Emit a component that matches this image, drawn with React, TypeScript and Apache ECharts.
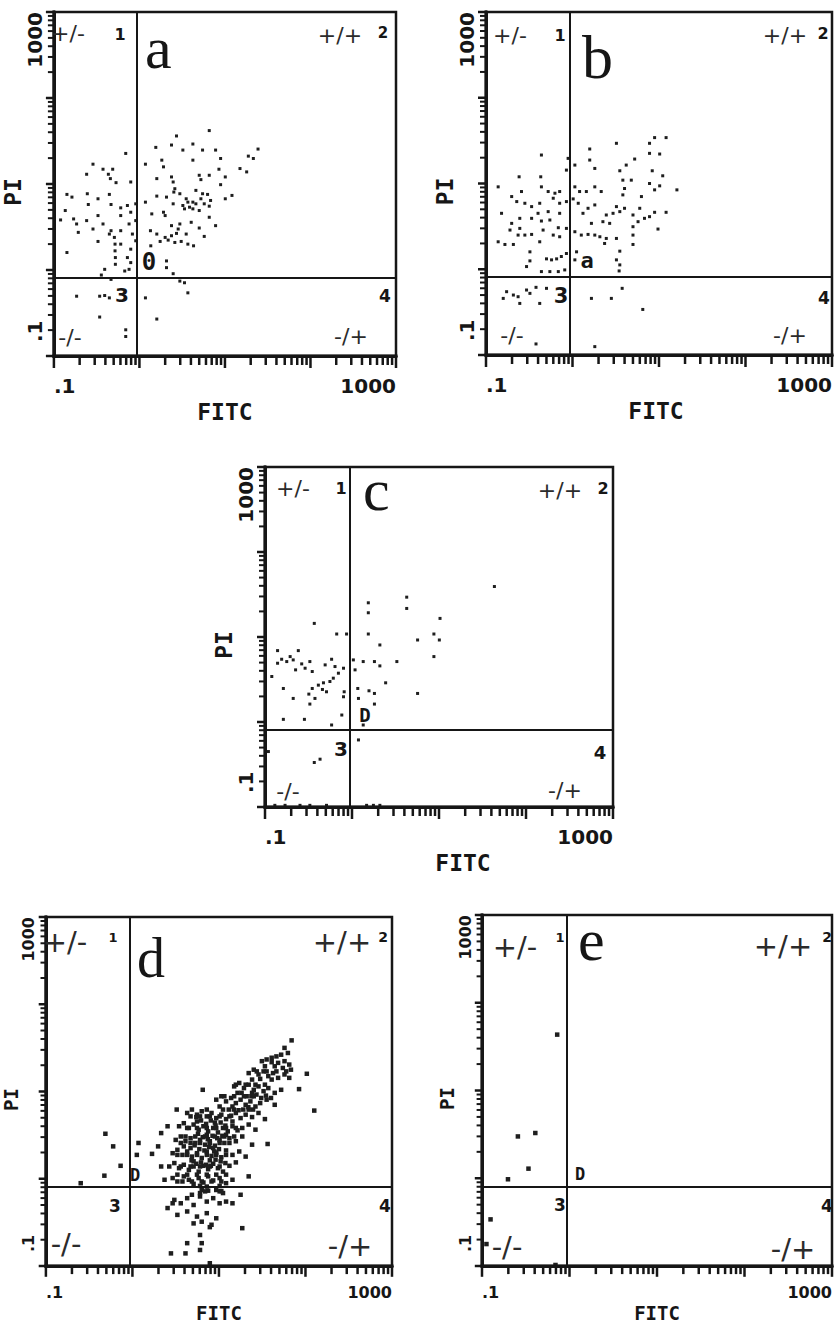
import React, { useEffect, useRef } from 'react';
import * as echarts from 'echarts';

// Flow cytometry dot plots: FL1 (FITC) vs FL2 (PI), 4-decade log amplifier,
// 1024 channels -> 256 channels per decade, from 0.1 to 1000.
const AXIS_MIN = 0.1;
const AXIS_MAX = 1000;
const CHANNELS_PER_DECADE = 256;
const gateFITCChannel = 249;
const gatePIChannel = 233;

const tickLabelMin = '.1';
const tickLabelMax = '1000';
const xAxisTitle = 'FITC';
const yAxisTitle = 'PI';
const panelLetters = ['a', 'b', 'c', 'd', 'e'];
const centerMarks = ['0', 'a', 'D', 'D', 'D'];
const quadrantSigns = ['+/-', '+/+', '-/-', '-/+'];
const quadrantNumbers = ['1', '2', '3', '4'];

// events as [FITC channel, PI channel]
const eventsA: number[][] = [
  [465,671],[367,655],[416,631],[305,621],[352,628],[386,613],[445,613],[484,613],[611,616],[582,595],
  [597,588],[499,588],[416,583],[323,583],[274,571],[328,563],[494,556],[557,558],[577,548],[435,538],
  [465,538],[352,533],[308,528],[513,533],[357,518],[440,525],[499,510],[362,498],[445,483],[460,481],
  [533,478],[513,468],[308,476],[337,473],[396,468],[416,458],[274,458],[357,453],[386,448],[425,453],
  [450,453],[465,446],[391,438],[416,438],[435,433],[328,428],[333,418],[293,423],[465,413],[411,398],
  [377,393],[484,388],[352,388],[372,378],[367,365],[289,373],[308,363],[333,353],[352,358],[396,363],
  [435,381],[450,356],[342,345],[362,338],[381,341],[401,333],[418,328],[318,341],[290,328],[337,283],
  [337,263],[357,245],[377,483],[425,493],[359,488],[401,458],[406,443],[440,468],[469,463],
  [215,603],[117,571],[147,556],[176,556],[98,541],[163,541],[169,528],[186,516],[230,518],[100,483],
  [39,481],[54,473],[132,468],[166,481],[103,451],[171,451],[200,441],[220,448],[245,453],[34,433],
  [20,405],[59,408],[98,403],[132,418],[68,393],[147,393],[200,418],[230,428],[73,368],[117,378],
  [166,363],[200,373],[225,393],[235,363],[132,341],[181,353],[183,333],[183,313],[184,293],[184,273],
  [200,333],[39,308],[220,293],[230,278],[152,258],[142,241],[212,253],[225,258],[230,318],[245,343],
  [171,373],[245,403],
  [171,228],[68,178],[137,178],[152,180],[166,173],[137,116],[215,78],[215,58],[274,173],[308,110],
  [401,188],[377,223],[391,218],
];

const eventsB: number[][] = [
  [499,649],[533,649],[386,632],[484,632],[307,615],[484,602],[514,600],[440,585],[307,582],[415,567],
  [263,567],[322,557],[396,550],[492,550],[523,535],[405,522],[430,522],[484,512],[263,502],[322,502],
  [410,497],[514,505],[565,493],[499,493],[277,488],[297,488],[341,488],[405,478],[460,473],[258,466],
  [273,453],[322,448],[302,438],[386,443],[410,438],[455,438],[499,426],[533,426],[287,423],[356,418],
  [376,423],[396,428],[435,418],[469,408],[484,413],[312,393],[346,398],[366,393],[450,398],[435,383],
  [509,376],[263,368],[282,358],[302,360],[322,358],[337,353],[356,348],[386,348],[435,358],[351,333],
  [435,330],[396,310],[386,284],[396,269],[394,251],[268,308],[263,284],
  [164,597],[98,532],[162,532],[243,587],[238,552],[36,502],[76,473],[105,488],[164,502],[184,488],
  [204,483],[218,488],[199,468],[91,458],[115,453],[135,443],[159,453],[218,453],[238,458],[46,423],
  [154,423],[184,428],[218,423],[100,408],[135,408],[164,400],[189,403],[76,393],[100,378],[214,380],
  [238,378],[71,373],[95,358],[115,358],[135,360],[169,373],[199,358],[218,353],[36,338],[56,330],
  [81,330],[159,338],[130,308],[130,281],[120,264],[179,287],[194,284],[209,287],[223,294],[238,303],
  [164,249],[189,249],[214,249],[233,254],
  [61,189],[81,179],[95,174],[120,194],[130,184],[148,202],[179,199],[51,169],[100,154],[159,154],
  [312,169],[371,169],[403,199],[464,136],[148,33],[322,25],
];

const eventsC: number[][] = [
  [675,664],[417,632],[417,598],[304,615],[304,585],[515,568],[304,521],[497,521],[513,503],[449,503],
  [338,488],[497,453],[388,438],[289,438],[322,438],[338,425],[260,443],[265,413],[355,374],[273,357],
  [306,350],[322,342],[449,342],[275,327],[322,310],[289,247],
  [145,553],[211,521],[240,521],[37,471],[98,471],[74,453],[49,445],[37,433],[64,438],[83,443],
  [108,431],[132,438],[196,445],[177,428],[90,413],[118,418],[139,408],[206,423],[216,403],[231,418],
  [20,393],[201,388],[172,374],[157,367],[191,378],[54,357],[139,357],[169,354],[181,347],[233,347],
  [129,340],[147,327],[83,327],[132,310],[231,332],[226,277],[196,247],[54,264],[116,264],
  [275,202],[10,167],[145,134],[162,144],
  [29,5],[59,5],[103,5],[132,5],[181,5],[299,5],[319,5],[338,5],
];

const eventsD: number[][] = [
  [176,388],[199,351],[221,294],[173,265],[103,243],
  [727,662],[706,640],[716,625],[696,620],[682,615],[668,611],
  [639,601],[653,606],[668,598],[687,596],[706,601],[720,591],[648,586],[677,586],[701,581],[725,576],
  [600,566],[615,576],[629,562],[644,571],[658,557],[672,566],[687,552],[706,562],[720,552],[610,547],
  [634,549],[668,547],
  [557,527],[572,537],[586,522],[600,532],[615,517],[629,527],[644,513],[658,522],[677,508],[696,517],
  [567,508],[610,508],
  [504,488],[519,498],[533,483],[548,493],[562,478],[576,488],[591,473],[605,483],[620,468],[634,478],
  [653,488],[677,473],[514,468],[552,468],[600,459],
  [418,449],[432,459],[447,444],[461,454],[476,439],[490,449],[504,434],[519,444],[533,431],[548,441],
  [562,449],[576,434],[591,444],[610,437],[629,449],[648,431],[476,459],[524,459],
  [394,410],[408,419],[423,405],[437,415],[452,400],[466,410],[480,395],[495,405],[509,392],[524,405],
  [538,395],[552,410],[567,398],[581,405],[600,415],[620,400],[447,424],[500,421],[552,424],
  [384,370],[399,380],[413,366],[428,375],[442,361],[456,370],[471,356],[485,366],[500,353],[514,370],
  [528,361],[543,375],[562,366],[581,380],[610,356],[408,351],[476,385],[533,385],
  [375,331],[389,341],[404,326],[418,336],[432,321],[447,331],[461,317],[476,336],[490,323],[504,333],
  [519,319],[533,339],[552,326],[572,336],[591,321],[428,346],[495,346],
  [365,292],[380,302],[394,287],[408,297],[423,282],[437,292],[452,277],[466,294],[480,284],[495,300],
  [509,287],[524,277],[543,294],[562,304],[437,307],[485,310],
  [375,258],[389,248],[408,263],[423,253],[437,241],[452,258],[466,245],[480,263],[495,251],[514,258],
  [533,243],[552,253],[456,235],[476,233],[514,235],
  [445,437],[459,427],[474,417],[488,427],[502,412],[517,421],[531,412],[450,388],[464,378],[479,372],
  [493,382],[507,375],[522,382],[440,354],[454,343],[469,339],[483,349],[498,336],[512,343],[431,310],
  [445,300],[459,304],[474,297],[488,294],[502,312],[517,307],[531,302],[579,508],[594,498],[608,498],
  [623,503],[637,493],[651,500],[666,493],[541,459],[556,459],[570,457],[584,459],[599,466],[613,459],
  [428,439],[456,439],[485,439],[514,439],[543,439],
  [418,405],[447,405],[476,405],[504,405],[533,405],[562,405],
  [413,380],[442,380],[471,380],[500,380],[528,380],[557,380],
  [399,361],[428,361],[456,361],[485,361],[514,361],[543,361],
  [389,326],[418,326],[447,326],[476,326],[504,326],[533,326],
  [399,292],[428,292],[456,292],[485,292],[514,292],
  [389,268],[418,268],[447,268],[476,268],[504,268],[533,268],
  [404,248],[432,248],[461,248],[490,248],[519,248],
  [528,498],[557,498],[586,498],[615,498],
  [562,532],[591,532],[620,532],[648,532],
  [624,571],[653,571],[682,571],[711,571],
  [274,361],[269,326],[314,329],[341,292],[351,253],[360,410],[387,459],[464,517],[600,263],[656,358],
  [749,519],[772,564],[794,456],[341,390],[332,351],
  [461,223],[480,221],[504,223],[519,220],
  [360,170],[380,194],[399,184],[418,199],[437,179],[456,204],[476,189],[495,199],[514,184],[389,150],
  [418,160],[447,145],[476,155],[504,140],[437,125],[461,130],[490,121],[552,184],[576,209],[581,111],
  [485,114],[456,91],[461,67],[456,47],[418,67],[370,37],[413,37],[456,214],[471,219],[514,219],
  [524,214],[533,189],[375,184],[432,209],[485,8],
];

const eventsE: number[][] = [
  [220,675],[105,378],[156,388],[136,284],[76,253],[25,136],[13,64],[215,3],
];

const panelEvents = [eventsA, eventsB, eventsC, eventsD, eventsE];

// ---- layout (pixels) ----
type Layout = {
  grid: [number, number, number, number];
  letter: [number, number]; letterSize: number;
  signs: number[][]; signSize: number;
  nums: number[][]; numSizes: number[];
  center: [number, number]; centerSize: number;
  tickFont: number; titleFont: number; nameGapX: number; namePadX: number; nameGapY: number;
  dot: number; tickScale: number;
};

const layouts: Layout[] = [
  { grid: [47, 12, 349, 344], letter: [145, 48], letterSize: 60,
    signs: [[68, 33], [340, 35], [70, 337], [351, 336]], signSize: 22,
    nums: [[120, 34], [383, 33], [122, 295], [385, 296]], numSizes: [16, 15, 20, 17],
    center: [149, 262], centerSize: 24, tickFont: 20, titleFont: 23, nameGapX: 44, namePadX: 0, nameGapY: 11, dot: 3, tickScale: 1 },
  { grid: [486, 12, 347, 343], letter: [582, 57], letterSize: 62,
    signs: [[510, 35], [785, 35], [512, 335], [790, 335]], signSize: 22,
    nums: [[560, 35], [823, 33], [561, 296], [824, 298]], numSizes: [16, 16, 21, 17],
    center: [587, 260], centerSize: 22, tickFont: 20, titleFont: 23, nameGapX: 44, namePadX: -6, nameGapY: 11, dot: 3, tickScale: 1 },
  { grid: [265, 467, 348, 340], letter: [363, 490], letterSize: 60,
    signs: [[293, 488], [560, 490], [288, 791], [565, 790]], signSize: 22,
    nums: [[341, 488], [603, 488], [341, 749], [600, 752]], numSizes: [16, 16, 20, 18],
    center: [365, 715], centerSize: 19, tickFont: 20, titleFont: 23, nameGapX: 44, namePadX: 48, nameGapY: 11, dot: 3, tickScale: 1 },
  { grid: [36, 917, 356, 349], letter: [137, 958], letterSize: 56,
    signs: [[65, 942], [342, 942], [66, 1244], [350, 1246]], signSize: 29,
    nums: [[113, 937], [383, 937], [115, 1206], [385, 1206]], numSizes: [13, 14, 17, 17],
    center: [135, 1175], centerSize: 17, tickFont: 16, titleFont: 19, nameGapX: 37, namePadX: 0, nameGapY: 9, dot: 4.5, tickScale: 0.9 },
  { grid: [482, 915, 356, 351], letter: [578, 940], letterSize: 60,
    signs: [[515, 947], [783, 946], [507, 1247], [793, 1249]], signSize: 29,
    nums: [[560, 937], [827, 937], [560, 1205], [827, 1206]], numSizes: [13, 14, 17, 17],
    center: [580, 1174], centerSize: 17, tickFont: 16, titleFont: 19, nameGapX: 37, namePadX: 0, nameGapY: 9, dot: 4.5, tickScale: 0.9 },
];

const INK = '#161616';

const chToValue = (c: number) => AXIS_MIN * Math.pow(10, c / CHANNELS_PER_DECADE);

// log tick positions: decades (major) and 2..9 within each decade (minor)
const majorTicks: number[] = [];
const minorTicks: number[] = [];
for (let d = -1; d <= 3; d++) {
  majorTicks.push(Math.pow(10, d));
  if (d < 3) for (let k = 2; k <= 9; k++) minorTicks.push(k * Math.pow(10, d));
}

const labelFmt = (v: number) => {
  const l = Math.log10(v);
  if (Math.abs(l + 1) < 1e-6) return tickLabelMin;
  if (Math.abs(l - 3) < 1e-6) return tickLabelMax;
  return '';
};

const txt = (text: string, x: number, y: number, font: string, fill: string, align = 'center', vAlign = 'middle') => ({
  type: 'text', x, y, silent: true, z: 50,
  style: { text, font, fill, align, verticalAlign: vAlign, textAlign: align, textVerticalAlign: vAlign },
});

function buildOption() {
  const grid: any[] = [];
  const xAxis: any[] = [];
  const yAxis: any[] = [];
  const series: any[] = [];
  const graphic: any[] = [];

  layouts.forEach((L, i) => {
    const [left, top, width, height] = L.grid;
    grid.push({ left, top, width, height, show: true, borderColor: INK, borderWidth: 2.5, backgroundColor: 'transparent' });
    xAxis.push({
      gridIndex: i, type: 'log', logBase: 10, min: AXIS_MIN, max: AXIS_MAX, splitNumber: 4,
      axisLine: { show: true, onZero: false, lineStyle: { color: INK, width: 3 } },
      axisTick: { show: false }, splitLine: { show: false }, minorTick: { show: false },
      axisLabel: {
        formatter: labelFmt, showMinLabel: true, showMaxLabel: true, alignMinLabel: 'left', alignMaxLabel: 'right',
        margin: L.tickFont === 20 ? 20 : 18, color: INK, fontFamily: 'DejaVu Sans', fontWeight: 'bold', fontSize: L.tickFont,
      },
      name: xAxisTitle, nameLocation: 'middle', nameGap: L.nameGapX,
      nameTextStyle: { color: INK, fontFamily: 'DejaVu Sans Mono', fontWeight: 'bold', fontSize: L.titleFont,
        padding: L.namePadX >= 0 ? [0, 0, 0, L.namePadX] : [0, -L.namePadX, 0, 0] },
    });
    yAxis.push({
      gridIndex: i, type: 'log', logBase: 10, min: AXIS_MIN, max: AXIS_MAX, splitNumber: 4,
      axisLine: { show: true, onZero: false, lineStyle: { color: INK, width: 3 } },
      axisTick: { show: false }, splitLine: { show: false }, minorTick: { show: false },
      axisLabel: {
        formatter: labelFmt, rotate: 90, showMinLabel: true, showMaxLabel: true, alignMinLabel: 'left', alignMaxLabel: 'right',
        margin: 9, padding: [0, 0, 0, 14], color: INK, fontFamily: 'DejaVu Sans', fontWeight: 'bold', fontSize: L.tickFont,
      },
      name: yAxisTitle, nameLocation: 'middle', nameGap: L.nameGapY, nameRotate: 90,
      nameTextStyle: { color: INK, fontFamily: 'DejaVu Sans Mono', fontWeight: 'bold', fontSize: L.titleFont, padding: [0, 16, 0, 0] },
    });

    series.push({
      type: 'scatter', xAxisIndex: i, yAxisIndex: i, silent: true,
      symbol: 'rect', symbolSize: L.dot,
      itemStyle: { color: '#1e1e1e', opacity: 1 },
      data: panelEvents[i].map(([fx, fy]) => [chToValue(fx), chToValue(fy)]),
      markLine: {
        silent: true, symbol: 'none', label: { show: false }, animation: false,
        lineStyle: { color: INK, width: 2, type: 'solid' },
        data: [{ xAxis: chToValue(gateFITCChannel) }, { yAxis: chToValue(gatePIChannel) }],
      },
    });

    // quadrant annotations
    L.signs.forEach((p, k) => {
      graphic.push(txt(quadrantSigns[k], p[0], p[1], `${L.signSize}px "DejaVu Sans"`, '#2b2b2b'));
    });
    L.nums.forEach((p, k) => {
      graphic.push(txt(quadrantNumbers[k], p[0], p[1], `bold ${L.numSizes[k]}px "DejaVu Sans"`, INK));
    });
    graphic.push(txt(panelLetters[i], L.letter[0], L.letter[1], `${L.letterSize}px "Liberation Serif"`, INK, 'left'));
    graphic.push(txt(centerMarks[i], L.center[0], L.center[1], `bold ${L.centerSize}px "DejaVu Sans Mono"`, INK));
  });

  return { animation: false, backgroundColor: '#ffffff', grid, xAxis, yAxis, series, graphic };
}

// tick marks placed with the axes' own log scales (convertToPixel), drawn outward
function buildTickGraphics(chart: any) {
  const out: any[] = [];
  layouts.forEach((L, i) => {
    const finder = { xAxisIndex: i, yAxisIndex: i };
    const add = (v: number, len: number, horizontal: boolean, w: number) => {
      const p = horizontal ? chart.convertToPixel(finder, [v, AXIS_MIN]) : chart.convertToPixel(finder, [AXIS_MIN, v]);
      if (!p || isNaN(p[0]) || isNaN(p[1])) return;
      const shape = horizontal
        ? { x: p[0] - w / 2, y: p[1], width: w, height: len }
        : { x: p[0] - len, y: p[1] - w / 2, width: len, height: w };
      out.push({ type: 'rect', silent: true, z: 40, shape, style: { fill: INK } });
    };
    majorTicks.forEach((v) => { add(v, 12 * L.tickScale, true, 2.5); add(v, 8 * L.tickScale, false, 2.5); });
    minorTicks.forEach((v) => { add(v, 9 * L.tickScale, true, 2.5); add(v, 6 * L.tickScale, false, 2); });
    // heavier left/bottom axis lines, as in the original print
    const o = chart.convertToPixel(finder, [AXIS_MIN, AXIS_MIN]);
    const xr = chart.convertToPixel(finder, [AXIS_MAX, AXIS_MIN]);
    const yt = chart.convertToPixel(finder, [AXIS_MIN, AXIS_MAX]);
    if (o && xr && yt) {
      out.push({ type: 'rect', silent: true, z: 40, shape: { x: o[0] - 1.5, y: o[1] - 1.5, width: xr[0] - o[0] + 3, height: 3 }, style: { fill: INK } });
      out.push({ type: 'rect', silent: true, z: 40, shape: { x: o[0] - 1.5, y: yt[1] - 1.5, width: 3, height: o[1] - yt[1] + 3 }, style: { fill: INK } });
    }
  });
  return out;
}

export default function App() {
  const ref = useRef<HTMLDivElement>(null);
  useEffect(() => {
    if (!ref.current) return;
    const chart = echarts.init(ref.current, undefined, { renderer: 'svg' });
    const option: any = buildOption();
    chart.setOption(option);
    const ticks = buildTickGraphics(chart);
    chart.setOption({ graphic: [...option.graphic, ...ticks] });
    return () => chart.dispose();
  }, []);
  return (
    <div
      ref={ref}
      style={{ position: 'absolute', left: 0, top: 0, width: 835, height: 1325, background: '#fff' }}
    />
  );
}
